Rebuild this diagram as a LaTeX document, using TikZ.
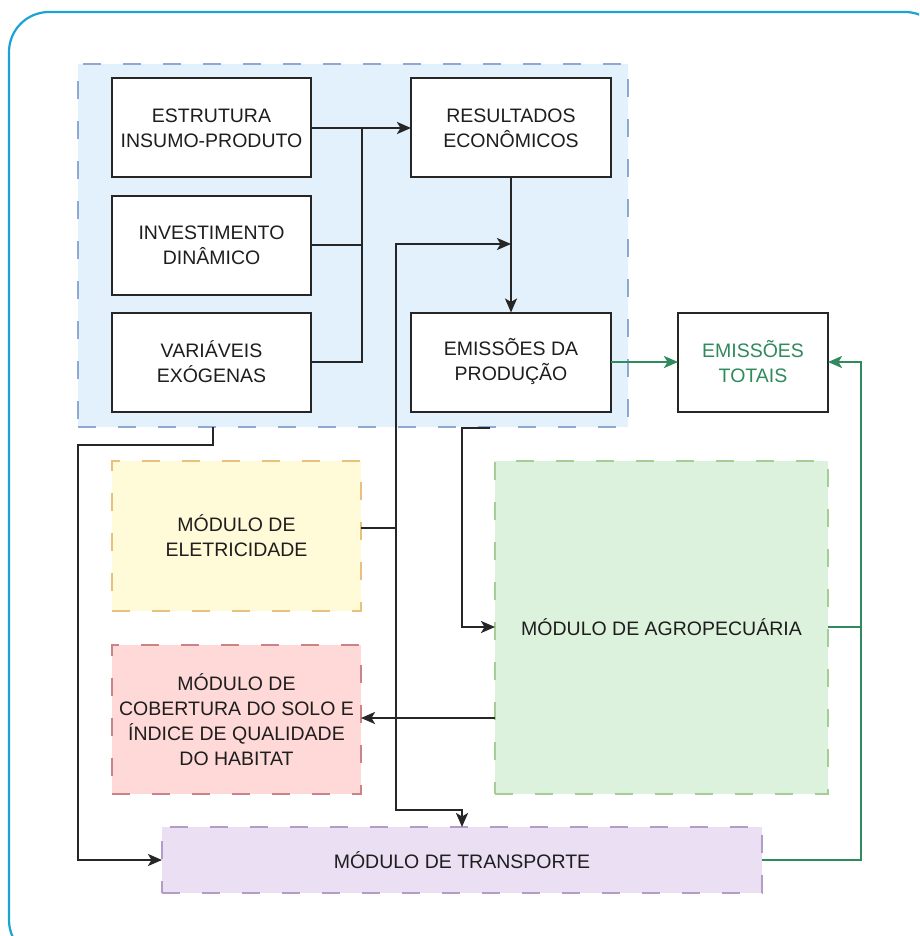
\documentclass[tikz,border=0pt]{standalone}
\usepackage{fontspec}
\setmainfont{Liberation Sans}
\usetikzlibrary{arrows.meta}
\definecolor{frameC}{HTML}{1BA3D6}
\definecolor{txtC}{HTML}{1E1E1E}
\definecolor{lineC}{HTML}{262626}
\definecolor{grnC}{HTML}{2F8A5C}
\definecolor{blueF}{HTML}{E2F1FC}
\definecolor{blueD}{HTML}{8FA8D4}
\definecolor{yelF}{HTML}{FFFBD8}
\definecolor{yelD}{HTML}{E8C27C}
\definecolor{redF}{HTML}{FFD8D8}
\definecolor{redD}{HTML}{C98585}
\definecolor{grF}{HTML}{DDF2DD}
\definecolor{grD}{HTML}{A6CC98}
\definecolor{purF}{HTML}{EBDFF3}
\definecolor{purD}{HTML}{B39CC8}
\tikzset{
  box/.style={draw=lineC, line width=2pt, fill=white, inner sep=0pt, outer sep=0pt,
    align=center, text=txtC, font=\fontsize{19.5}{25}\selectfont},
  module/.style={line width=1.8pt, dash pattern=on 18pt off 22pt, inner sep=0pt, outer sep=0pt,
    align=center, text=txtC, font=\fontsize{19.5}{25}\selectfont},
  conn/.style={draw=lineC, line width=2.2pt},
  arr/.style={conn, -{Stealth[length=14pt,width=12pt,inset=3.5pt]}},
  garr/.style={draw=grnC, line width=2.2pt, -{Stealth[length=14pt,width=12pt,inset=3.5pt]}},
  gconn/.style={draw=grnC, line width=2.2pt},
}
\begin{document}
\begin{tikzpicture}[x=1pt,y=-1pt]
\useasboundingbox (0,0) rectangle (919,936);
\begin{scope}
\clip (0,0) rectangle (919,936);
\draw[frameC, line width=2.2pt, rounded corners=40pt] (9,12) rectangle (945,960);
\end{scope}
% blue area
\node[module, draw=blueD, fill=blueF, minimum width=550pt, minimum height=363pt] (blue) at (353,245.5) {};
% boxes
\node[box, minimum width=199pt, minimum height=99pt] (est) at (211.5,128) {ESTRUTURA\\INSUMO-PRODUTO};
\node[box, minimum width=199pt, minimum height=99pt] (inv) at (211.5,245) {INVESTIMENTO\\DINÂMICO};
\node[box, minimum width=199pt, minimum height=99pt] (var) at (211.5,362) {VARIÁVEIS\\EXÓGENAS};
\node[box, minimum width=200pt, minimum height=99pt] (res) at (511,128) {RESULTADOS\\ECONÔMICOS};
\node[box, minimum width=200pt, minimum height=99pt] (emp) at (511,362) {EMISSÕES DA\\PRODUÇÃO};
\node[box, minimum width=150pt, minimum height=99pt, text=grnC] (emt) at (753,362) {EMISSÕES\\TOTAIS};
% modules
\node[module, draw=yelD, fill=yelF, minimum width=249pt, minimum height=150pt] (ele) at (236.5,536) {MÓDULO DE\\ELETRICIDADE};
\node[module, draw=redD, fill=redF, minimum width=249pt, minimum height=149pt] (cob) at (236.5,719.5) {MÓDULO DE\\COBERTURA DO SOLO E\\ÍNDICE DE QUALIDADE\\DO HABITAT};
\node[module, draw=grD, fill=grF, minimum width=333pt, minimum height=333pt] (agr) at (661.5,627.5) {MÓDULO DE AGROPECUÁRIA};
\node[module, draw=purD, fill=purF, minimum width=600pt, minimum height=66pt] (tra) at (462,860) {MÓDULO DE TRANSPORTE};
% coordinates
\coordinate (j1) at (362,128);
\coordinate (j2) at (511,244);
\coordinate (v1) at (396,528);
\coordinate (v2) at (396,810);
\coordinate (b1) at (213,427);
\coordinate (b1a) at (213,445);
\coordinate (b1b) at (78,445);
\coordinate (b2) at (490,428);
\coordinate (b2a) at (462,428);
\coordinate (g1) at (861,627);
% connectors
\draw[arr] (est.east) -- (res.west);
\draw[conn] (inv.east) -| (j1);
\draw[conn] (var.east) -| (j1);
\draw[arr] (res.south) -- (emp.north);
\draw[arr] (ele.east |- v1) -- (v1) |- (j2);
\draw[arr] (v1) -- (v2) -| (tra.north);
\draw[arr] (b1) -- (b1a) -- (b1b) |- (tra.west);
\draw[arr] (b2) -- (b2a) |- (agr.west |- 0,627);
\draw[arr] (agr.west |- 0,718) -- (cob.east |- 0,718);
\draw[garr] (emp.east) -- (emt.west);
\draw[garr] (agr.east |- g1) -- (g1) |- (emt.east);
\draw[gconn] (tra.east) -| (g1);
\end{tikzpicture}
\end{document}
